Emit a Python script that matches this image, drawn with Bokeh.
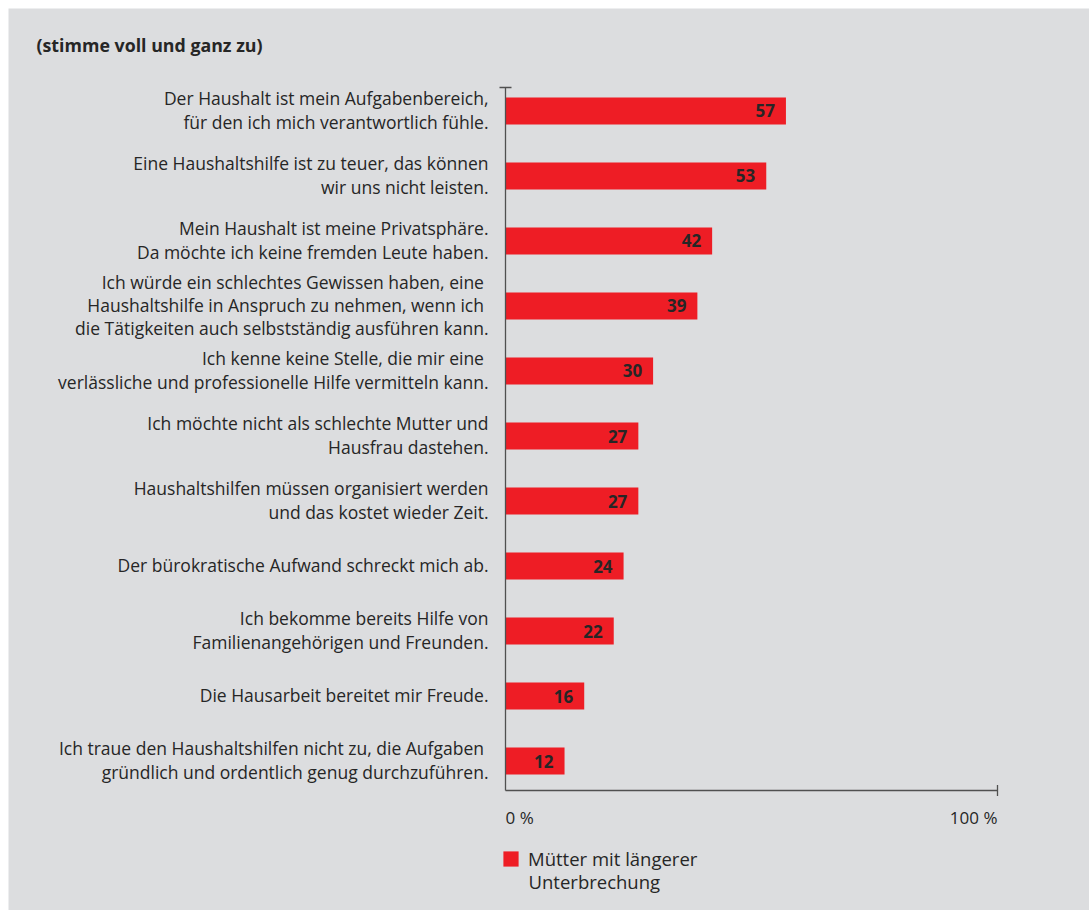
import math
from bokeh.plotting import figure
from bokeh.models import Range1d, Label, Legend, LegendItem, ColumnDataSource
from bokeh.core.properties import value
from bokeh.embed import file_html
from bokeh.resources import INLINE

NB = "\u00a0"
title_text = "(stimme voll und ganz zu)"
categories = [
    "Der Haushalt ist mein Aufgabenbereich,\nfür den ich mich verantwortlich fühle.",
    "Eine Haushaltshilfe ist zu teuer, das können\nwir uns nicht leisten.",
    "Mein Haushalt ist meine Privatsphäre.\nDa möchte ich keine fremden Leute haben.",
    "Ich würde ein schlechtes Gewissen haben, eine" + NB + "\nHaushaltshilfe in Anspruch zu nehmen, wenn ich" + NB + "\ndie Tätigkeiten auch selbstständig ausführen kann.",
    "Ich kenne keine Stelle, die mir eine" + NB + "\nverlässliche und professionelle Hilfe vermitteln kann.",
    "Ich möchte nicht als schlechte Mutter und\nHausfrau dastehen.",
    "Haushaltshilfen müssen organisiert werden\nund das kostet wieder Zeit.",
    "Der bürokratische Aufwand schreckt mich ab.",
    "Ich bekomme bereits Hilfe von\nFamilienangehörigen und Freunden.",
    "Die Hausarbeit bereitet mir Freude.",
    "Ich traue den Haushaltshilfen nicht zu, die Aufgaben" + NB + "\ngründlich und ordentlich genug durchzuführen.",
]
values = [57, 53, 42, 39, 30, 27, 27, 24, 22, 16, 12]
series_line1 = "Mütter mit längerer"
series_line2 = "Unterbrechung"
x_ticks = [0, 100]
x_tick_labels = ["0 %", "100 %"]

BG = "#dcdddf"
RED = "#ee1d25"
TXT = "#262626"
AX = "#505050"
FONT = "Open Sans"

# layout (page pixels)
W, H = 1089, 910
M = 8                      # white margin top/left
AX_L, AX_R = 505, 997      # x=0 and x=100
AX_T, AX_B = 87, 790       # vertical axis extent
PX_X = (AX_R - AX_L) / 100.0
PX_Y = 65.0                # pixels per category

n = len(values)
idx = list(range(n))
y_top = -0.3615
y_bot = n - 1 + 0.4538

x0 = -(AX_L - M) / PX_X
x1 = 100 + (W - AX_R) / PX_X
yr_end = y_top - (AX_T - M) / PX_Y
yr_start = y_bot + (H - AX_B) / PX_Y

p = figure(width=W, height=H, output_backend="svg", toolbar_location=None,
           x_range=Range1d(x0, x1), y_range=Range1d(yr_start, yr_end),
           min_border_left=M, min_border_top=M, min_border_right=0, min_border_bottom=0)
p.background_fill_color = BG
p.border_fill_color = "white"
p.outline_line_color = None
p.grid.visible = False
p.axis.visible = False

src = ColumnDataSource(dict(y=idx, v=values, t=[str(v) for v in values]))
r = p.hbar(y="y", right="v", left=0, height=0.415, source=src,
           fill_color=RED, line_color=None)
p.text(x="v", y="y", text="t", source=src, text_align="right",
       text_baseline="middle", x_offset=-11, text_font=value(FONT),
       text_font_style="bold", text_font_size="17px", text_color=TXT)

# axis lines and ticks
p.segment(x0=[0, 0], y0=[y_top, y_bot], x1=[0, 100], y1=[y_bot, y_bot],
          line_color=AX, line_width=1.3)
p.dash(x=[0], y=[y_top], size=12, angle=0, line_color=AX, line_width=1.3)
p.dash(x=[100], y=[y_bot], size=11, angle=math.pi / 2, line_color=AX, line_width=1.3)

# category labels
for i, c in enumerate(categories):
    p.add_layout(Label(x=0, y=i, text=c, x_offset=-17, y_offset=1, text_align="right",
                       text_baseline="middle", text_font=FONT, text_font_size="17.5px",
                       text_color=TXT, text_line_height=0.96))

# x tick labels
for k, t in zip(x_ticks, x_tick_labels):
    p.add_layout(Label(x=k, y=H - 817, y_units="screen", text=t,
                       text_align="left" if k == 0 else "right",
                       text_baseline="middle", text_font=FONT, text_font_size="17px",
                       text_color=TXT))

# title
p.add_layout(Label(x=36 - M, y=H - 44, x_units="screen", y_units="screen",
                   text=title_text, text_align="left", text_baseline="middle",
                   text_font=FONT, text_font_size="17.8px", text_font_style="bold",
                   text_color=TXT))

legend = Legend(items=[LegendItem(label=series_line1, renderers=[r])],
                location=(501 - M, H - 871), padding=0, margin=0, spacing=0,
                glyph_width=19, glyph_height=19, label_standoff=8,
                border_line_color=None, background_fill_alpha=0,
                label_text_font=FONT, label_text_font_size="18.5px",
                label_text_color=TXT)
p.add_layout(legend)
p.add_layout(Label(x=528 - M, y=H - 881, x_units="screen", y_units="screen",
                   text=series_line2, text_align="left", text_baseline="middle",
                   text_font=FONT, text_font_size="18.5px", text_color=TXT))

open("out.html", "w").write(file_html(p, INLINE))
